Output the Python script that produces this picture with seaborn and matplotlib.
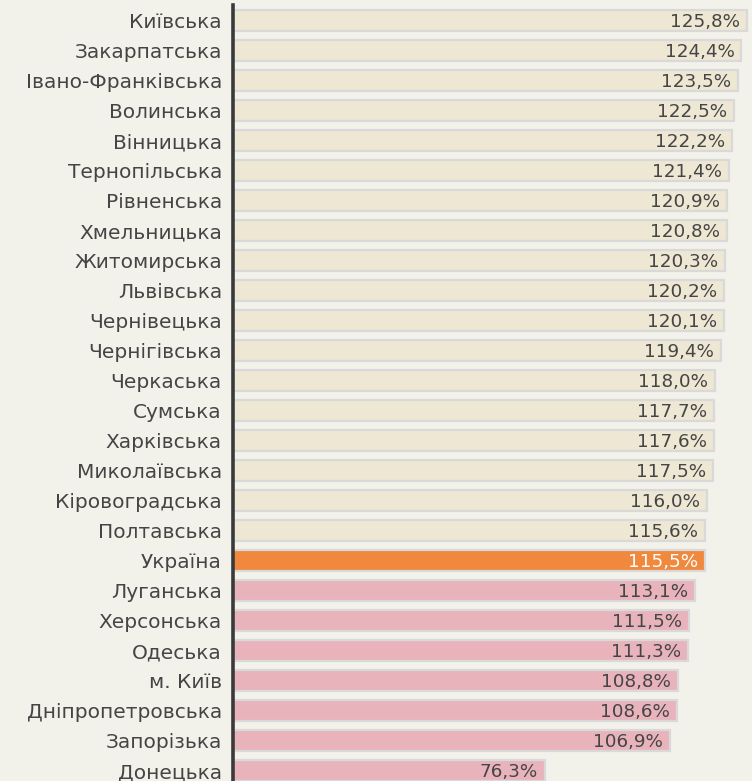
import matplotlib
matplotlib.use("Agg")
import matplotlib.pyplot as plt
import seaborn as sns
import pandas as pd

regions = [
    "Київська", "Закарпатська", "Івано-Франківська", "Волинська", "Вінницька",
    "Тернопільська", "Рівненська", "Хмельницька", "Житомирська", "Львівська",
    "Чернівецька", "Чернігівська", "Черкаська", "Сумська", "Харківська",
    "Миколаївська", "Кіровоградська", "Полтавська", "Україна", "Луганська",
    "Херсонська", "Одеська", "м. Київ", "Дніпропетровська", "Запорізька",
    "Донецька",
]
values = [
    125.8, 124.4, 123.5, 122.5, 122.2, 121.4, 120.9, 120.8, 120.3, 120.2,
    120.1, 119.4, 118.0, 117.7, 117.6, 117.5, 116.0, 115.6, 115.5, 113.1,
    111.5, 111.3, 108.8, 108.6, 106.9, 76.3,
]

BG = "#f2f1ea"
ABOVE = "#ede7d3"
NATIONAL = "#f0883e"
BELOW = "#e9b3bc"
TEXT = "#454545"

df = pd.DataFrame({"region": regions, "value": values})
ua = df.loc[df["region"] == "Україна", "value"].iloc[0]


def bar_color(row):
    if row["region"] == "Україна":
        return NATIONAL
    return ABOVE if row["value"] > ua else BELOW


df["color"] = df.apply(bar_color, axis=1)

sns.set_theme(style="white")
plt.rcParams["font.family"] = ["DejaVu Sans"]

fig = plt.figure(figsize=(7.52, 7.81), dpi=100, facecolor=BG)
ax = fig.add_axes([233 / 752, 0, 1 - 233 / 752, 1 - 5 / 781])
ax.set_facecolor(BG)

sns.barplot(data=df, y="region", x="value", hue="region",
            palette=dict(zip(df["region"], df["color"])), legend=False,
            orient="h", width=0.73, edgecolor="#d9d9d9", linewidth=1.6,
            saturation=1, ax=ax)

ax.set_xlim(0, 127.0)
ax.set_ylim(25.35, -0.517)

# value labels inside the bars
for i, (v, name) in enumerate(zip(df["value"], df["region"])):
    col = "white" if name == "Україна" else TEXT
    ax.text(v - 1.7, i + 0.05, f"{v:.1f}%".replace(".", ","), ha="right",
            va="center", fontsize=13.2, color=col)

ax.set_xlabel("")
ax.set_ylabel("")
ax.set_xticks([])
ax.tick_params(axis="y", length=0, pad=8, labelsize=14.5, labelcolor=TEXT)
for s in ["top", "right", "bottom"]:
    ax.spines[s].set_visible(False)
ax.spines["left"].set_color("#3a3a3a")
ax.spines["left"].set_linewidth(2.6)

fig.savefig("out.png", dpi=100, facecolor=BG)
